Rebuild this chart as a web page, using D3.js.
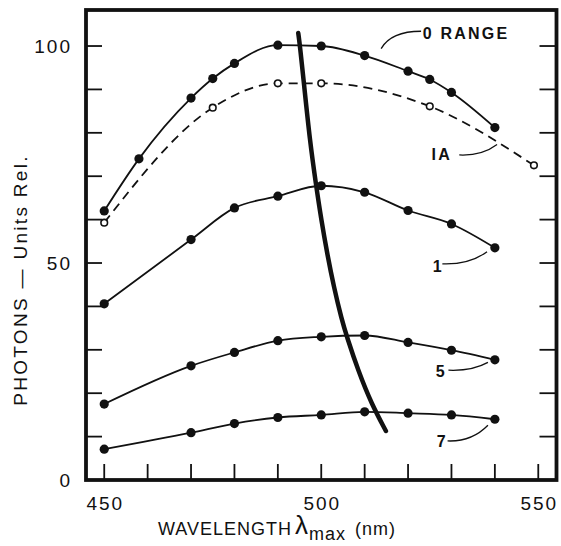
<!DOCTYPE html>
<html>
<head>
<meta charset="utf-8">
<script src="https://cdn.jsdelivr.net/npm/d3@7"></script>
<style>
  body { margin: 0; background: #fff; }
  text { font-family: "Liberation Sans", Arial, sans-serif; fill: #111; }
</style>
</head>
<body>
<svg width="561" height="546"></svg>
<script>
// curves (photons, relative units)
var wl0 = [450, 458, 470, 475, 480, 490, 500, 510, 520, 525, 530, 540];
var range0 = [62, 74, 88, 92.5, 96, 100.2, 100, 97.8, 94.2, 92.3, 89.3, 81.2];
var wlIA = [450, 475, 490, 500, 525, 549];
var rangeIA = [59.3, 85.8, 91.4, 91.4, 86.1, 72.5];
var wlLow = [450, 470, 480, 490, 500, 510, 520, 530, 540];
var range1 = [40.6, 55.4, 62.7, 65.4, 67.8, 66.3, 62.1, 59, 53.5];
var range5 = [17.5, 26.3, 29.4, 32.1, 33, 33.3, 31.7, 29.9, 27.7];
var range7 = [7.1, 10.9, 13, 14.4, 15, 15.7, 15.4, 15, 14];
// heavy locus line of the maxima
var locusWl = [494.7, 495.1, 496, 497.4, 498.8, 500, 501.4, 502.9, 504.7, 505.9, 508.5, 511.6, 514.9];
var locusPh = [103, 100, 91.5, 78, 68, 60, 52, 44.5, 37, 33, 25.2, 17.5, 11.3];

var xTicks = [450, 460, 470, 480, 490, 500, 510, 520, 530, 540, 550];
var yTicks = [10, 20, 30, 40, 50, 60, 70, 80, 90, 100];
var xLabels = [450, 500, 550];
var yLabels = [0, 50, 100];

// curve labels: text, label position, leader end (data units)
var curveNames = ["0 RANGE", "IA", "1", "5", "7"];
var nameAt = [[523.4, 103], [525.4, 75.1], [525.7, 49.3], [526.4, 25.1], [526.6, 8.9]];
var leaderFrom = [[513.8, 99.4], [531.8, 74.9], [527.9, 49.8], [529.3, 25.3], [529.1, 9.0]];
var leaderTo = [[523, 103.4], [540.5, 77.3], [538.2, 52.6], [538.4, 27.1], [538.4, 12.6]];

var chart = {
    svg: null,
    x: null,
    y: null,

    init: function() {
        this.svg = d3.select("svg");
        this.x = d3.scaleLinear().domain([445.8, 554.2]).range([86, 556.5]);
        this.y = d3.scaleLinear().domain([0, 108.3]).range([480, 10]);
        this.drawFrame();
        this.drawCurves();
        this.drawLabels();
    },

    drawFrame: function() {
        var x = this.x, y = this.y, svg = this.svg;
        var g = svg.append("g");

        g.selectAll("line.xt").data(xTicks).enter().append("line")
            .attr("x1", function(d) { return x(d); })
            .attr("x2", function(d) { return x(d); })
            .attr("y1", y(0)).attr("y2", y(0) - 16)
            .attr("stroke", "#111").attr("stroke-width", 1.8);

        g.selectAll("line.yl").data(yTicks).enter().append("line")
            .attr("x1", x(445.8)).attr("x2", x(445.8) + 16)
            .attr("y1", function(d) { return y(d); })
            .attr("y2", function(d) { return y(d); })
            .attr("stroke", "#111").attr("stroke-width", 1.8);

        g.selectAll("line.yr").data(yTicks).enter().append("line")
            .attr("x1", x(554.2)).attr("x2", x(554.2) - 17)
            .attr("y1", function(d) { return y(d); })
            .attr("y2", function(d) { return y(d); })
            .attr("stroke", "#111").attr("stroke-width", 1.8);

        g.append("rect")
            .attr("x", x(445.8)).attr("y", y(108.3))
            .attr("width", x(554.2) - x(445.8))
            .attr("height", y(0) - y(108.3))
            .attr("fill", "none").attr("stroke", "#111").attr("stroke-width", 3.8);

        g.selectAll("text.xl").data(xLabels).enter().append("text")
            .attr("x", function(d) { return x(d) + 1; })
            .attr("y", 510)
            .attr("text-anchor", "middle")
            .attr("font-size", 19).attr("letter-spacing", 2)
            .text(function(d) { return d; });

        g.selectAll("text.yl").data(yLabels).enter().append("text")
            .attr("x", 72)
            .attr("y", function(d) { return y(d) + 7; })
            .attr("text-anchor", "end")
            .attr("font-size", 19).attr("letter-spacing", 2)
            .text(function(d) { return d; });

        var xt = svg.append("text")
            .attr("x", 158).attr("y", 535)
            .attr("font-size", 18).attr("letter-spacing", 1);
        xt.append("tspan").text("WAVELENGTH");
        xt.append("tspan").attr("font-size", 26).attr("dx", 3).attr("dy", -1).text("λ");
        xt.append("tspan").attr("font-size", 18).attr("dy", 6).text("max");
        xt.append("tspan").attr("dx", 9).attr("dy", -5).text("(nm)");

        svg.append("text")
            .attr("transform", "translate(27,280) rotate(-90)")
            .attr("text-anchor", "middle")
            .attr("font-size", 19).attr("letter-spacing", 2.3)
            .text("PHOTONS — Units Rel.");
    },

    drawCurves: function() {
        var x = this.x, y = this.y, svg = this.svg;
        var line = d3.line()
            .x(function(d) { return x(d[0]); })
            .y(function(d) { return y(d[1]); })
            .curve(d3.curveMonotoneX);

        var filled = [d3.zip(wl0, range0), d3.zip(wlLow, range1), d3.zip(wlLow, range5), d3.zip(wlLow, range7)];
        var open = d3.zip(wlIA, rangeIA);

        svg.append("path").datum(open)
            .attr("d", line)
            .attr("fill", "none").attr("stroke", "#111")
            .attr("stroke-width", 1.8).attr("stroke-dasharray", "9,6");

        svg.selectAll("path.solid").data(filled).enter().append("path")
            .attr("class", "solid")
            .attr("d", line)
            .attr("fill", "none").attr("stroke", "#111").attr("stroke-width", 1.8);

        svg.append("path").datum(d3.zip(locusWl, locusPh))
            .attr("d", line.curve(d3.curveBasis))
            .attr("fill", "none").attr("stroke", "#111")
            .attr("stroke-width", 4.5).attr("stroke-linecap", "round");

        filled.forEach(function(pts) {
            svg.append("g").selectAll("circle").data(pts).enter().append("circle")
                .attr("cx", function(d) { return x(d[0]); })
                .attr("cy", function(d) { return y(d[1]); })
                .attr("r", 4.6).attr("fill", "#111");
        });

        svg.append("g").selectAll("circle").data(open).enter().append("circle")
            .attr("cx", function(d) { return x(d[0]); })
            .attr("cy", function(d) { return y(d[1]); })
            .attr("r", 3.3).attr("fill", "#fff")
            .attr("stroke", "#111").attr("stroke-width", 1.6);
    },

    drawLabels: function() {
        var x = this.x, y = this.y, svg = this.svg;

        svg.selectAll("path.leader").data(curveNames).enter().append("path")
            .attr("class", "leader")
            .attr("d", function(d, i) {
                var a = leaderFrom[i], b = leaderTo[i];
                var x0 = x(a[0]), y0 = y(a[1]), x1 = x(b[0]), y1 = y(b[1]);
                var cx = i === 0 ? x0 + (x1 - x0) * 0.25 : x0 + (x1 - x0) * 0.6;
                var cy = i === 0 ? y1 : y0 + 1;
                return "M" + x0 + "," + y0 + "Q" + cx + "," + cy + " " + x1 + "," + y1;
            })
            .attr("fill", "none").attr("stroke", "#111").attr("stroke-width", 1.3);

        svg.selectAll("text.cname").data(curveNames).enter().append("text")
            .attr("class", "cname")
            .attr("x", function(d, i) { return x(nameAt[i][0]); })
            .attr("y", function(d, i) { return y(nameAt[i][1]) + 6; })
            .attr("font-size", 16).attr("font-weight", "bold").attr("letter-spacing", 2.2)
            .text(function(d) { return d; });
    }
};

chart.init();
</script>
</body>
</html>
